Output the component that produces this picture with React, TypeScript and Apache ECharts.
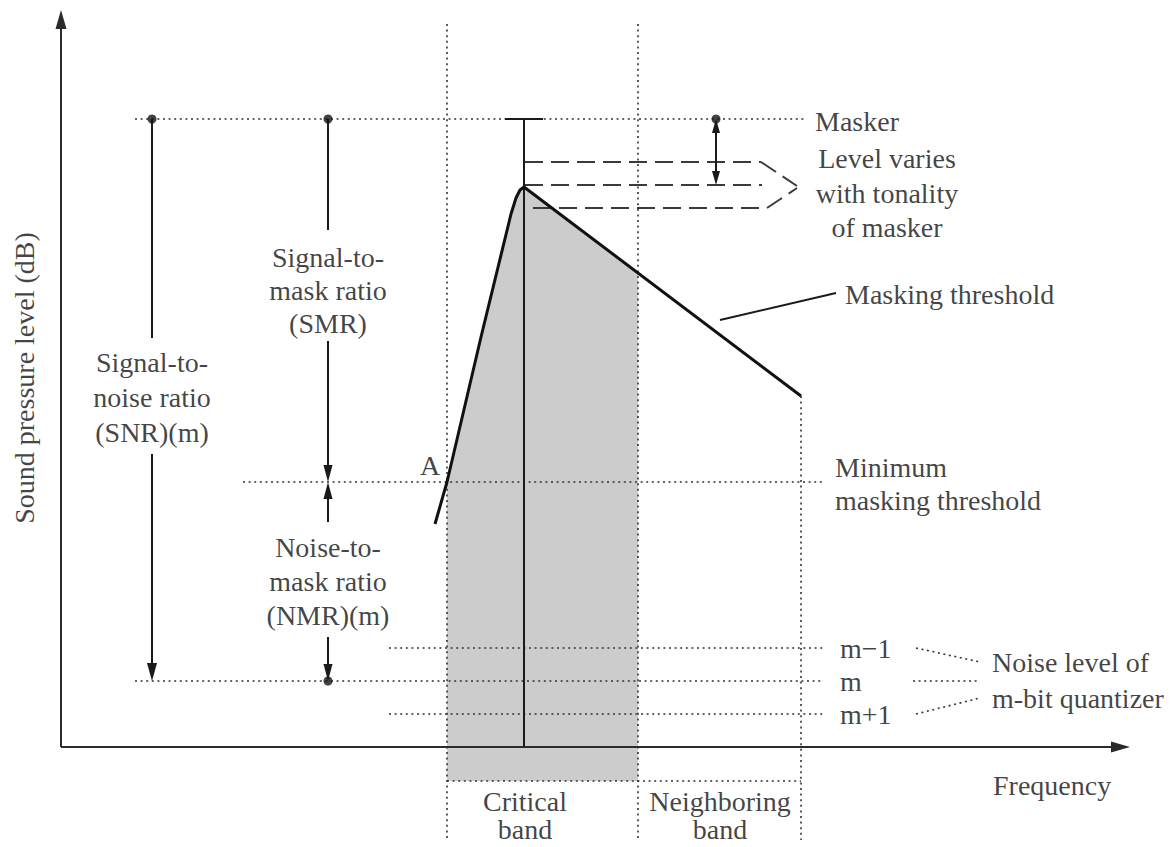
import React, { useEffect, useRef } from "react";
import * as echarts from "echarts";

// ---- Diagram values (frequency units on x, dB units on y) ----
const maskerFreq = 46.3;
const maskerLevel = 62.8;
const maskerCapFreqs = [44.4, 48.2];
const maskingCurve: number[][] = [
  [37.4, 22.3], [38.6, 26.5], [42.0, 41.0], [45.0, 53.3], [45.5, 54.9],
  [45.9, 55.7], [46.3, 56.0], [74.0, 35.1],
];
const shadedTop: number[][] = [
  [38.6, 26.5], [42.0, 41.0], [45.0, 53.3], [45.5, 54.9],
  [45.9, 55.7], [46.3, 56.0], [57.7, 47.4],
];
const bandEdges = [38.6, 57.7, 74.0];
const bandFloor = -3.4;
const bandTopGuide = 72.3;
const bandBottomGuide = -9.3;
const minThreshold = 26.5;
const noiseLevelNames = ["m−1", "m", "m+1"];
const noiseLevels = [9.9, 6.6, 3.3];
const tonalityLevels = [58.5, 56.2, 53.9];
const snrFreq = 9.1;
const smrFreq = 26.7;
const tonalFreq = 65.5;
const axisEnd = [106.9, 73.7];

const FONT = '"Liberation Serif", "Times New Roman", serif';
const INK = "#111111";
const PX = 0.1; // data units per pixel (both axes)

const dotted = { type: [2, 3.6], width: 1.6, color: "#333" };
const solid = { type: "solid", width: 2, color: "#1a1a1a" };
const dashed = { type: [18, 8], width: 2, color: "#3a3a3a" };

function seg(a: number[], b: number[], style: any) {
  return [
    { coord: a, lineStyle: style, symbol: "none" },
    { coord: b, symbol: "none" },
  ];
}

function arrow(from: number[], tip: number[], size: number[], both = false, style: any = solid) {
  const dx = tip[0] - from[0];
  const dy = tip[1] - from[1];
  const L = Math.hypot(dx, dy);
  const back = (size[1] / 2) * PX;
  const end = [tip[0] - (dx / L) * back, tip[1] - (dy / L) * back];
  const start = both ? [from[0] + (dx / L) * back, from[1] + (dy / L) * back] : from;
  return [
    { coord: start, lineStyle: style, symbol: both ? "triangle" : "none", symbolSize: size },
    { coord: end, symbol: "triangle", symbolSize: size },
  ];
}

const annotations = [
  { text: "Sound pressure level (dB)", at: [-3.7, 36.9], align: "center", rotate: 90, lh: 34 },
  { text: "Masker", at: [75.4, 62.6], align: "left", lh: 34 },
  { text: "Level varies\nwith tonality\nof masker", at: [82.6, 55.4], align: "center", lh: 34.5 },
  { text: "Masking threshold", at: [78.4, 45.3], align: "left", lh: 34 },
  { text: "Signal-to-\nmask ratio\n(SMR)", at: [smrFreq, 45.7], align: "center", lh: 33 },
  { text: "Signal-to-\nnoise ratio\n(SNR)(m)", at: [snrFreq, 35.0], align: "center", lh: 35 },
  { text: "Noise-to-\nmask ratio\n(NMR)(m)", at: [smrFreq, 16.6], align: "center", lh: 34 },
  { text: "A", at: [36.9, 28.2], align: "center", lh: 34 },
  { text: "Minimum\nmasking threshold", at: [77.4, 26.35], align: "left", lh: 33 },
  { text: noiseLevelNames[0], at: [77.9, noiseLevels[0]], align: "left", lh: 30 },
  { text: noiseLevelNames[1], at: [77.9, noiseLevels[1]], align: "left", lh: 30 },
  { text: noiseLevelNames[2], at: [77.9, noiseLevels[2]], align: "left", lh: 30 },
  { text: "Noise level of\nm-bit quantizer", at: [93.1, 6.7], align: "left", lh: 36 },
  { text: "Frequency", at: [93.2, -3.8], align: "left", lh: 34 },
  { text: "Critical", at: [46.4, -5.4], align: "center", lh: 30 },
  { text: "band", at: [46.4, -8.2], align: "center", lh: 22 },
  { text: "Neighboring", at: [65.9, -5.4], align: "center", lh: 30 },
  { text: "band", at: [65.9, -8.2], align: "center", lh: 22 },
];

export default function App() {
  const ref = useRef<HTMLDivElement>(null);
  useEffect(() => {
    if (!ref.current) return;
    const chart = echarts.init(ref.current, undefined, { renderer: "svg" });

    const lines: any[] = [
      // vertical band guides
      seg([bandEdges[0], bandTopGuide], [bandEdges[0], bandBottomGuide], dotted),
      seg([bandEdges[1], bandTopGuide], [bandEdges[1], bandBottomGuide], dotted),
      seg([bandEdges[2], 35.1], [bandEdges[2], bandBottomGuide], dotted),
      seg([bandEdges[0], bandFloor], [bandEdges[2], bandFloor], dotted),
      // masker level
      seg([7.4, maskerLevel], [74.4, maskerLevel], dotted),
      // minimum masking threshold
      seg([18.2, minThreshold], [76.4, minThreshold], dotted),
      // noise levels
      seg([32.8, noiseLevels[0]], [76.4, noiseLevels[0]], dotted),
      seg([7.4, noiseLevels[1]], [76.2, noiseLevels[1]], dotted),
      seg([32.8, noiseLevels[2]], [76.4, noiseLevels[2]], dotted),
      seg([85.5, noiseLevels[0]], [91.9, 8.5], dotted),
      seg([85.2, noiseLevels[1]], [91.9, noiseLevels[1]], dotted),
      seg([85.5, noiseLevels[2]], [91.9, 4.9], dotted),
      // masker stem and cap
      seg([maskerFreq, maskerLevel], [maskerFreq, 0], solid),
      seg([maskerCapFreqs[0], maskerLevel], [maskerCapFreqs[1], maskerLevel], solid),
      // tonality dashed chevron
      seg([maskerFreq + 0.1, tonalityLevels[0]], [70.0, tonalityLevels[0]], dashed),
      seg([70.0, tonalityLevels[0]], [73.6, 56.1], dashed),
      seg([maskerFreq + 0.1, tonalityLevels[1]], [70.1, tonalityLevels[1]], dashed),
      seg([47.2, tonalityLevels[2]], [70.6, tonalityLevels[2]], dashed),
      seg([70.6, tonalityLevels[2]], [73.6, 55.9], dashed),
      // masking threshold leader
      seg([65.9, 42.7], [77.5, 45.4], { type: "solid", width: 1.8, color: "#1a1a1a" }),
      // SNR
      seg([snrFreq, maskerLevel], [snrFreq, 40.9], solid),
      arrow([snrFreq, 29.3], [snrFreq, noiseLevels[1]], [10, 18]),
      // SMR
      seg([smrFreq, maskerLevel], [smrFreq, 51.7], solid),
      arrow([smrFreq, 40.6], [smrFreq, minThreshold], [9, 17]),
      // NMR
      arrow([smrFreq, 22.5], [smrFreq, minThreshold], [9, 17]),
      arrow([smrFreq, 11.0], [smrFreq, noiseLevels[1]], [9, 17]),
      // tonality range
      arrow([tonalFreq, maskerLevel], [tonalFreq, tonalityLevels[1]], [8, 14], true),
      // axes
      arrow([0, 0], [axisEnd[0], 0], [11, 19], false, { type: "solid", width: 2, color: "#2a2a2a" }),
      arrow([0, 0], [0, axisEnd[1]], [11, 19], false, { type: "solid", width: 2, color: "#2a2a2a" }),
    ];

    const option: any = {
      animation: false,
      backgroundColor: "#ffffff",
      grid: { left: 0, right: 0, top: 0, bottom: 0 },
      xAxis: { type: "value", min: -6.1, max: 111.5, show: false },
      yAxis: { type: "value", min: -10, max: 74.7, show: false },
      series: [
        {
          type: "line",
          data: shadedTop,
          symbol: "none",
          silent: true,
          lineStyle: { width: 0, opacity: 0 },
          areaStyle: { color: "#cccccc", opacity: 1, origin: bandFloor },
          z: 1,
        },
        {
          type: "line",
          data: maskingCurve,
          symbol: "none",
          silent: true,
          lineStyle: { width: 3, color: "#111", join: "round" },
          z: 6,
          markLine: {
            silent: true,
            symbol: ["none", "none"],
            label: { show: false },
            emphasis: { disabled: true },
            data: lines,
            z: 4,
          },
        },
        {
          type: "scatter",
          silent: true,
          symbol: "circle",
          symbolSize: 9,
          itemStyle: { color: "#111" },
          data: [
            [snrFreq, maskerLevel],
            [smrFreq, maskerLevel],
            [tonalFreq, maskerLevel],
            [smrFreq, noiseLevels[1]],
          ],
          z: 8,
        },
        {
          type: "scatter",
          silent: true,
          symbolSize: 1,
          itemStyle: { color: "rgba(0,0,0,0)" },
          z: 9,
          data: annotations.map((a) => ({
            value: a.at,
            label: {
              show: true,
              formatter: a.text,
              position: "inside",
              align: a.align,
              verticalAlign: "middle",
              rotate: a.rotate || 0,
              fontFamily: FONT,
              fontSize: 28,
              lineHeight: a.lh,
              color: INK,
            },
          })),
        },
      ],
    };
    chart.setOption(option);
    return () => chart.dispose();
  }, []);
  return (
    <div
      ref={ref}
      style={{ position: "fixed", left: 0, top: 0, width: 1176, height: 847, background: "#fff" }}
    />
  );
}
